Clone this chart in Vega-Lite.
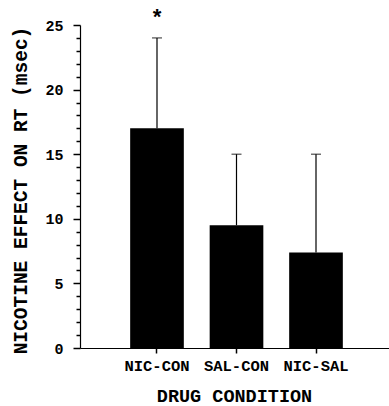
{
  "$schema": "https://vega.github.io/schema/vega-lite/v6.json",
  "width": 313,
  "height": 323,
  "autosize": "none",
  "padding": {"left": 80, "top": 25, "right": 0, "bottom": 58},
  "background": "white",
  "config": {
    "view": {"stroke": null},
    "axis": {
      "ticks": true,
      "domainColor": "black",
      "domainWidth": 1.2,
      "tickColor": "black",
      "labelColor": "black",
      "titleColor": "black",
      "labelFont": "Liberation Mono",
      "titleFont": "Liberation Mono",
      "labelFontWeight": "bold",
      "titleFontWeight": "bold",
      "grid": false
    }
  },
  "data": {
    "values": [
      {"condition": "NIC-CON", "effect": 17, "upper": 24, "sig": "*"},
      {"condition": "SAL-CON", "effect": 9.5, "upper": 15, "sig": ""},
      {"condition": "NIC-SAL", "effect": 7.4, "upper": 15, "sig": ""}
    ]
  },
  "encoding": {
    "x": {
      "field": "condition",
      "type": "nominal",
      "sort": null,
      "scale": {"paddingInner": 0.325, "paddingOuter": 0.631},
      "axis": {
        "ticks": true,
        "labelAngle": 0,
        "labelFontSize": 15.5,
        "labelPadding": 5,
        "tickSize": 5,
        "tickWidth": 1.5,
        "title": "DRUG CONDITION",
        "titleFontSize": 18.5,
        "titleBaseline": "middle",
        "titleX": 154,
        "titleY": 47
      }
    },
    "y": {
      "field": "effect",
      "type": "quantitative",
      "scale": {"domain": [0, 25], "nice": false},
      "axis": {
        "ticks": true,
        "values": [0,1,2,3,4,5,6,7,8,9,10,11,12,13,14,15,16,17,18,19,20,21,22,23,24,25],
        "labelExpr": "datum.value % 5 == 0 ? datum.label : ''",
        "labelOverlap": false,
        "tickSize": 7,
        "tickWidth": 1.5,
        "tickDash": {"condition": {"test": "datum.value % 5 == 0", "value": [7, 0]}, "value": [4, 20]},
        "labelFontSize": 15,
        "labelPadding": 10,
        "title": "NICOTINE EFFECT ON RT (msec)",
        "titleFontSize": 19.5,
        "titleBaseline": "middle",
        "titleX": -60,
        "titleY": 165
      }
    }
  },
  "layer": [
    {
      "mark": {"type": "bar", "color": "black"}
    },
    {
      "mark": {"type": "rule", "color": "black", "strokeWidth": 1.2},
      "encoding": {
        "y2": {"field": "upper"}
      }
    },
    {
      "mark": {"type": "tick", "color": "black", "size": 10, "thickness": 1.2},
      "encoding": {
        "y": {"field": "upper", "type": "quantitative"}
      }
    },
    {
      "transform": [{"filter": "datum.sig === '*'"}],
      "mark": {"type": "text", "font": "Liberation Mono", "fontWeight": "bold", "fontSize": 22, "baseline": "alphabetic", "dy": -13, "color": "black"},
      "encoding": {
        "y": {"field": "upper", "type": "quantitative"},
        "text": {"field": "sig"}
      }
    }
  ]
}
